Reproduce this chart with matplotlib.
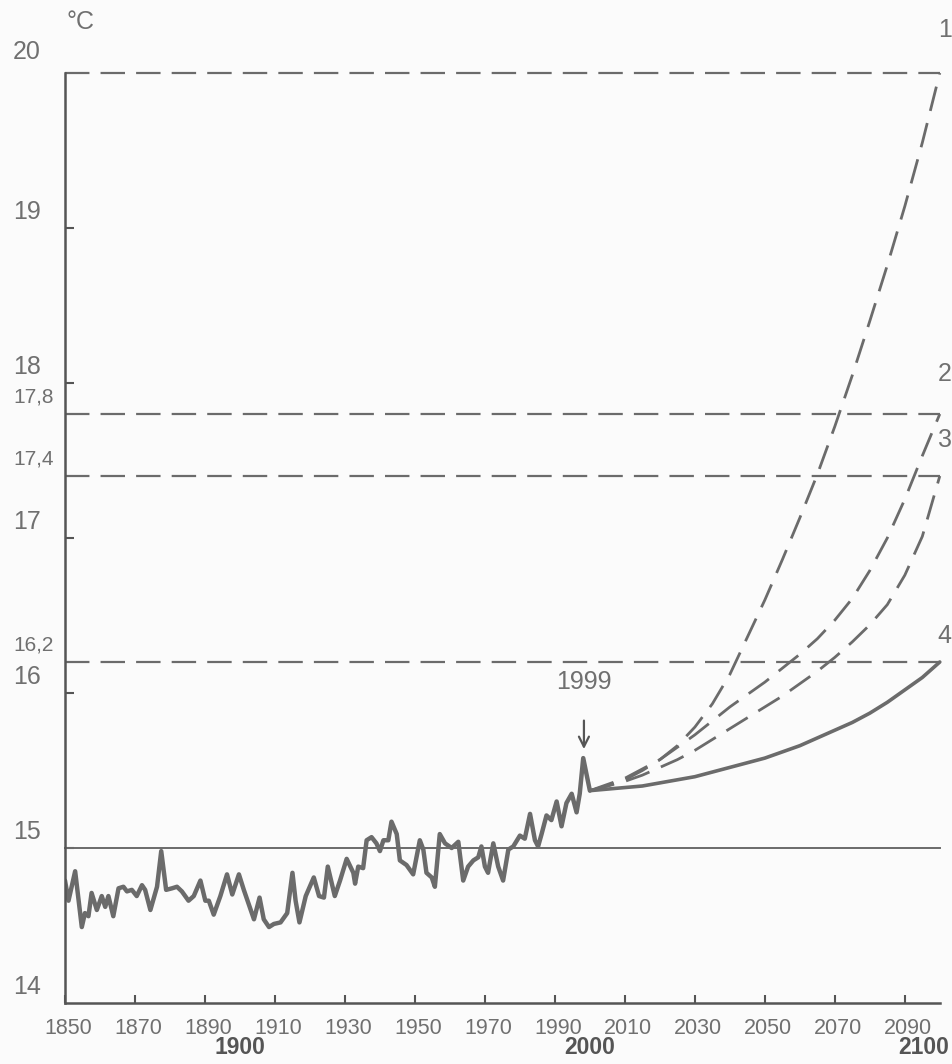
import matplotlib.pyplot as plt
from matplotlib.transforms import ScaledTranslation

plt.rcParams['font.family'] = ['Liberation Sans', 'DejaVu Sans']

obs_years = [1850.0, 1851.0, 1852.9, 1854.8, 1855.7, 1856.7, 1857.6, 1859.1, 1860.5, 1861.5,
             1862.4, 1863.8, 1865.3, 1866.7, 1867.7, 1869.1, 1870.5, 1872.0, 1872.9, 1874.4,
             1876.3, 1877.5, 1878.9, 1880.6, 1882.0, 1883.4, 1885.3, 1886.8, 1888.7, 1890.1,
             1891.1, 1892.5, 1894.4, 1896.3, 1897.8, 1899.7, 1901.1, 1904.0, 1905.6, 1906.8,
             1908.3, 1909.7, 1911.6, 1913.5, 1915.0, 1915.9, 1917.0, 1918.8, 1921.1, 1922.6,
             1924.0, 1925.1, 1927.1, 1928.6, 1930.5, 1932.4, 1932.9, 1933.8, 1935.2, 1936.2,
             1937.6, 1939.0, 1940.0, 1941.0, 1942.4, 1943.3, 1944.8, 1945.7, 1947.6, 1949.5,
             1951.4, 1952.4, 1953.3, 1954.8, 1955.7, 1957.1, 1958.6, 1960.5, 1962.4, 1963.8,
             1965.2, 1966.7, 1968.1, 1969.0, 1970.0, 1970.9, 1972.4, 1973.8, 1975.2, 1976.7,
             1978.1, 1980.0, 1981.4, 1982.9, 1984.3, 1985.2, 1986.2, 1987.6, 1989.0, 1990.5,
             1991.9, 1993.3, 1994.8, 1996.2, 1997.1, 1998.1, 1999.0, 2000.0]
obs_temp = [14.79, 14.66, 14.85, 14.49, 14.58, 14.56, 14.71, 14.60, 14.69, 14.62,
            14.69, 14.56, 14.74, 14.75, 14.72, 14.73, 14.69, 14.76, 14.73, 14.60,
            14.75, 14.98, 14.73, 14.74, 14.75, 14.72, 14.66, 14.69, 14.79, 14.66,
            14.66, 14.57, 14.69, 14.83, 14.70, 14.83, 14.73, 14.54, 14.68, 14.54,
            14.49, 14.51, 14.52, 14.58, 14.84, 14.66, 14.52, 14.69, 14.81, 14.69,
            14.68, 14.88, 14.69, 14.79, 14.93, 14.84, 14.77, 14.88, 14.87, 15.05,
            15.07, 15.03, 14.98, 15.05, 15.05, 15.17, 15.09, 14.92, 14.89, 14.83,
            15.05, 14.99, 14.84, 14.81, 14.75, 15.09, 15.03, 15.00, 15.04, 14.79,
            14.88, 14.92, 14.94, 15.01, 14.88, 14.84, 15.03, 14.88, 14.79, 14.99,
            15.01, 15.08, 15.06, 15.22, 15.05, 15.01, 15.09, 15.21, 15.18, 15.30,
            15.14, 15.29, 15.35, 15.23, 15.35, 15.58, 15.48, 15.37]

# scenario curves 2000-2100, read every 5 years
proj_years = [2000, 2005, 2010, 2015, 2020, 2025, 2030, 2035, 2040, 2045, 2050,
              2055, 2060, 2065, 2070, 2075, 2080, 2085, 2090, 2095, 2100]
temp_1 = [15.37, 15.40, 15.44, 15.50, 15.57, 15.66, 15.78, 15.93, 16.12, 16.36, 16.60,
          16.86, 17.13, 17.41, 17.72, 18.05, 18.40, 18.76, 19.14, 19.55, 20.00]
temp_2 = [15.37, 15.41, 15.45, 15.51, 15.57, 15.65, 15.73, 15.82, 15.91, 15.99, 16.07,
          16.16, 16.25, 16.35, 16.47, 16.61, 16.79, 17.00, 17.25, 17.53, 17.80]
temp_3 = [15.37, 15.40, 15.43, 15.47, 15.52, 15.57, 15.63, 15.70, 15.77, 15.84, 15.91,
          15.98, 16.06, 16.14, 16.23, 16.33, 16.44, 16.57, 16.76, 17.01, 17.40]
temp_4 = [15.37, 15.38, 15.39, 15.40, 15.42, 15.44, 15.46, 15.49, 15.52, 15.55, 15.58,
          15.62, 15.66, 15.71, 15.76, 15.81, 15.87, 15.94, 16.02, 16.10, 16.20]

levels = [20, 17.8, 17.4, 16.2]
curve_names = ['1', '2', '3', '4']
name_pos = [20.28, 18.06, 17.63, 16.37]

x_ticks = list(range(1850, 2091, 20))
y_ticks = [15, 16, 17, 18, 19]
y_labels = [(14, '14'), (15, '15'), (16, '16'), (17, '17'), (18, '18'), (19, '19'), (20, '20')]
y_level_labels = [(17.8, '17,8'), (17.4, '17,4'), (16.2, '16,2')]
century_labels = [(1900, '1900'), (2000, '2000'), (2095.5, '2100')]

grey = '#6b6b6b'
dark = '#555555'
text_grey = '#707070'

fig = plt.figure(figsize=(9.53, 10.64), dpi=100, facecolor='#fbfbfb')
ax = fig.add_axes([65 / 953, 61 / 1064, 879 / 953, 930 / 1064])
ax.set_facecolor('#fbfbfb')
ax.set_xlim(1850, 2101.2)
ax.set_ylim(14, 20)

# reference levels
for lev in levels:
    ax.plot([1850, 2100], [lev, lev], color=grey, lw=1.6, ls=(0, (11, 5)), clip_on=False)
ax.plot([1850, 2100], [15, 15], color=grey, lw=1.4, clip_on=False)

# observed record
ax.plot(obs_years, obs_temp, color=grey, lw=3.2, solid_joinstyle='round', solid_capstyle='round')

# projections
for temps in [temp_1, temp_2, temp_3]:
    ax.plot(proj_years, temps, color=grey, lw=2.0, ls=(0, (9, 4.5)), clip_on=False)
ax.plot(proj_years, temp_4, color=grey, lw=2.6, solid_capstyle='round', clip_on=False)

for name, yy in zip(curve_names, name_pos):
    ax.text(2103.4, yy, name, fontsize=18, color=text_grey, ha='right', va='center')

# 1999 marker
ax.text(1998.3, 16.07, '1999', fontsize=18, color=text_grey, ha='center', va='center')
ax.annotate('', xy=(1998.3, 15.62), xytext=(1998.3, 15.84),
            arrowprops=dict(arrowstyle='->', color=dark, lw=1.6, mutation_scale=18))

# axes
for side in ['top', 'right']:
    ax.spines[side].set_visible(False)
for side in ['left', 'bottom']:
    ax.spines[side].set_color(dark)
    ax.spines[side].set_linewidth(1.8)
ax.spines['bottom'].set_bounds(1850, 2100)

ax.set_xticks(x_ticks)
ax.set_xticklabels([str(v) for v in x_ticks])
ax.tick_params(axis='x', direction='in', length=6, width=1.5, color=dark,
               labelsize=15.5, labelcolor=text_grey, pad=11)
offset = ScaledTranslation(3 / 100, 0, fig.dpi_scale_trans)
for lab in ax.get_xticklabels():
    lab.set_transform(lab.get_transform() + offset)

ax.set_yticks(y_ticks)
ax.set_yticklabels([])
ax.tick_params(axis='y', direction='in', length=6.5, width=1.5, color=dark)

for val, s in y_labels:
    dy = 21 if val == 20 else 16
    ax.annotate(s, xy=(0, val), xycoords=('axes fraction', 'data'),
                xytext=(-52 * 0.72, dy * 0.72), textcoords='offset points',
                ha='left', va='center', fontsize=18, color=text_grey)
for val, s in y_level_labels:
    ax.annotate(s, xy=(0, val), xycoords=('axes fraction', 'data'),
                xytext=(-52 * 0.72, 17 * 0.72), textcoords='offset points',
                ha='left', va='center', fontsize=15, color=text_grey)

ax.annotate('°C', xy=(0, 20), xycoords=('axes fraction', 'data'),
            xytext=(16 * 0.72, 51 * 0.72), textcoords='offset points',
            ha='center', va='center', fontsize=18, color=text_grey)

for yr, s in century_labels:
    ax.annotate(s, xy=(yr, 0), xycoords=('data', 'axes fraction'),
                xytext=(0, -45 * 0.72), textcoords='offset points',
                ha='center', va='center', fontsize=16.5, fontweight='bold', color=dark)

plt.savefig('out.png', dpi=100, facecolor=fig.get_facecolor())
